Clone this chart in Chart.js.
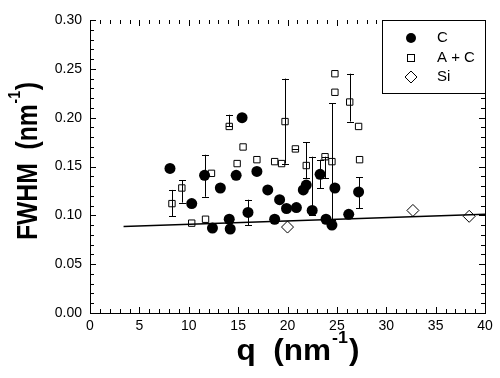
<!DOCTYPE html>
<html>
<head>
<meta charset="utf-8">
<script src="https://cdn.jsdelivr.net/npm/chart.js@4"></script>
<style>
  html, body { margin: 0; padding: 0; background: #fff; }
  #wrap { width: 500px; height: 378px; }
</style>
</head>
<body>
<div id="wrap"><canvas id="chart"></canvas></div>
<script>
/* ─────────────────────────────────────────
   DATA
───────────────────────────────────────── */
const xTicks = [0, 5, 10, 15, 20, 25, 30, 35, 40];
const yTicks = [0.00, 0.05, 0.10, 0.15, 0.20, 0.25, 0.30];

// C (filled circles)
const cQ    = [8.1, 10.3, 11.6, 12.4, 13.2, 14.1, 14.2, 14.8, 15.4, 16.0, 16.9, 18.0, 18.7,
               19.2, 19.9, 20.9, 21.6, 21.9, 22.5, 23.3, 23.9, 24.5, 24.8, 26.2, 27.2];
const cFwhm = [0.148, 0.112, 0.141, 0.087, 0.128, 0.096, 0.086, 0.141, 0.200, 0.103, 0.145, 0.126, 0.096,
               0.116, 0.107, 0.108, 0.126, 0.131, 0.105, 0.142, 0.096, 0.090, 0.128, 0.101, 0.124];
const cLow  = [null, null, 0.119, null, null, null, null, null, null, 0.090, null, null, null,
               null, null, null, null, null, 0.100, 0.128, null, null, null, null, 0.107];
const cHigh = [null, null, 0.162, null, null, null, null, null, null, 0.116, null, null, null,
               null, null, null, null, null, 0.160, 0.157, null, null, null, null, 0.139];

// A + C (open squares)
const acQ    = [8.3, 9.3, 10.3, 11.7, 12.3, 14.1, 14.9, 15.5, 16.9, 18.7, 19.4, 19.75,
                20.8, 21.9, 23.8, 24.5, 24.8, 24.8, 26.3, 27.2, 27.3];
const acFwhm = [0.112, 0.128, 0.092, 0.096, 0.143, 0.191, 0.153, 0.170, 0.157, 0.155, 0.153, 0.196,
                0.168, 0.151, 0.160, 0.155, 0.245, 0.226, 0.216, 0.191, 0.157];
const acLow  = [0.099, 0.113, null, null, null, 0.191, null, null, null, null, null, 0.153,
                0.168, 0.138, 0.138, 0.095, null, null, 0.196, null, null];
const acHigh = [0.126, 0.136, null, null, null, 0.203, null, null, null, null, null, 0.240,
                0.168, 0.175, 0.160, 0.215, null, null, 0.245, null, null];

// Si (open diamonds)
const siQ    = [20.0, 32.7, 38.4];
const siFwhm = [0.088, 0.105, 0.099];

// linear fit
const fitQ    = [3.4, 40];
const fitFwhm = [0.0885, 0.101];

const FONT = '"Liberation Sans", Arial, Helvetica, sans-serif';

function pts(xs, ys) {
    return xs.map((x, i) => ({x: x, y: ys[i]}));
}

/* ─────────────────────────────────────────
   PLUGIN — error bars
───────────────────────────────────────── */
const errorBars = {
    id: 'errorBars',
    beforeDatasetsDraw(chart) {
        const ctx = chart.ctx;
        const xs = chart.scales.x, ys = chart.scales.y;
        const sets = [[cQ, cLow, cHigh], [acQ, acLow, acHigh]];
        ctx.save();
        ctx.strokeStyle = '#000';
        ctx.lineWidth = 1;
        sets.forEach(([q, lo, hi]) => {
            q.forEach((v, i) => {
                if (lo[i] === null || hi[i] === null) return;
                const px = Math.round(xs.getPixelForValue(v)) + 0.5;
                const y1 = ys.getPixelForValue(lo[i]);
                const y2 = ys.getPixelForValue(hi[i]);
                ctx.beginPath();
                ctx.moveTo(px, y1); ctx.lineTo(px, y2);
                ctx.moveTo(px - 3.5, Math.round(y1) + 0.5); ctx.lineTo(px + 3.5, Math.round(y1) + 0.5);
                ctx.moveTo(px - 3.5, Math.round(y2) + 0.5); ctx.lineTo(px + 3.5, Math.round(y2) + 0.5);
                ctx.stroke();
            });
        });
        ctx.restore();
    }
};

/* ─────────────────────────────────────────
   PLUGIN — frame ticks, legend, axis titles
───────────────────────────────────────── */
const frame = {
    id: 'frame',
    afterDraw(chart) {
        const ctx = chart.ctx;
        const a = chart.chartArea;
        const xs = chart.scales.x, ys = chart.scales.y;
        ctx.save();
        ctx.strokeStyle = '#000';
        ctx.lineWidth = 1;
        ctx.beginPath();
        // y ticks left & right
        for (let k = 0; k <= 30; k++) {
            const py = Math.round(ys.getPixelForValue(k / 100)) + 0.5;
            const len = (k % 5 === 0) ? 6 : 4;
            ctx.moveTo(a.left, py); ctx.lineTo(a.left + len, py);
            ctx.moveTo(a.right, py); ctx.lineTo(a.right - len, py);
        }
        // x ticks bottom & top
        for (let k = 0; k <= 40; k++) {
            const px = Math.round(xs.getPixelForValue(k)) + 0.5;
            const len = (k % 5 === 0) ? 6 : 4;
            ctx.moveTo(px, a.bottom); ctx.lineTo(px, a.bottom - len);
            ctx.moveTo(px, a.top); ctx.lineTo(px, a.top + len);
        }
        // right border
        ctx.moveTo(Math.round(a.right) + 0.5, a.top);
        ctx.lineTo(Math.round(a.right) + 0.5, a.bottom);
        ctx.stroke();

        // legend box
        const lx = 382.5, ly = 20.5, lw = 103, lh = 73;
        ctx.fillStyle = '#fff';
        ctx.fillRect(lx, ly, lw, lh);
        ctx.strokeRect(lx, ly, lw, lh);
        ctx.font = '15px ' + FONT;
        ctx.fillStyle = '#000';
        ctx.textBaseline = 'middle';
        ctx.textAlign = 'left';
        const sx = 411;
        // C
        ctx.beginPath(); ctx.arc(sx, 38, 5, 0, Math.PI * 2); ctx.fill();
        ctx.fillText('C', 437, 38);
        // A + C
        ctx.strokeRect(sx - 3.5, 54.5, 7, 7);
        ctx.fillText('A + C', 437, 58);
        // Si
        ctx.beginPath();
        ctx.moveTo(sx, 71); ctx.lineTo(sx + 6, 77); ctx.lineTo(sx, 83); ctx.lineTo(sx - 6, 77);
        ctx.closePath(); ctx.stroke();
        ctx.fillText('Si', 437, 77);

        // axis titles with superscripts
        drawTitle(ctx, 'q  (nm', ')', 298, 360, 0, 123);
        drawTitle(ctx, 'FWHM  (nm', ')', 37, 161, -Math.PI / 2, 158);
        ctx.restore();
    }
};

function drawTitle(ctx, main, close, cx, base, rot, target) {
    const big = 'bold 30px ' + FONT, small = 'bold 17px ' + FONT;
    ctx.font = big; const w1 = ctx.measureText(main).width; const w3 = ctx.measureText(close).width;
    ctx.font = small; const w2 = ctx.measureText('-1').width + 2;
    const total = w1 + w2 + w3;
    const s = target / total;
    ctx.save();
    ctx.translate(cx, base);
    ctx.rotate(rot);
    ctx.scale(s, 1);
    ctx.textBaseline = 'alphabetic';
    ctx.textAlign = 'left';
    ctx.fillStyle = '#000';
    let x = -total / 2;
    ctx.font = big; ctx.fillText(main, x, rot === 0 ? 0 : 0); x += w1;
    ctx.font = small; ctx.fillText('-1', x + 1, -17); x += w2;
    ctx.font = big; ctx.fillText(close, x, 0);
    ctx.restore();
}

/* ─────────────────────────────────────────
   CHART
───────────────────────────────────────── */
const ctxMain = document.getElementById('chart');
new Chart(ctxMain, {
    type: 'scatter',
    data: {
        datasets: [
            {
                label: 'fit',
                data: pts(fitQ, fitFwhm),
                showLine: true,
                borderColor: '#000',
                borderWidth: 1.5,
                pointRadius: 0,
            },
            {
                label: 'C',
                data: pts(cQ, cFwhm),
                pointStyle: 'circle',
                pointRadius: 5.5,
                backgroundColor: '#000',
                borderColor: '#000',
                borderWidth: 0,
            },
            {
                label: 'A + C',
                data: pts(acQ, acFwhm),
                pointStyle: 'rect',
                pointRadius: 4.5,
                backgroundColor: 'rgba(255,255,255,0)',
                borderColor: '#000',
                borderWidth: 1,
            },
            {
                label: 'Si',
                data: pts(siQ, siFwhm),
                pointStyle: 'rectRot',
                pointRadius: 6,
                backgroundColor: '#fff',
                borderColor: '#000',
                borderWidth: 1,
            }
        ]
    },
    options: {
        responsive: true,
        maintainAspectRatio: false,
        animation: false,
        layout: {padding: {top: 20, right: 15, left: 0, bottom: 0}},
        plugins: {legend: {display: false}, tooltip: {enabled: false}},
        scales: {
            x: {
                type: 'linear',
                min: 0, max: 40,
                afterFit(scale) { scale.height = 65; },
                afterBuildTicks(scale) { scale.ticks = xTicks.map(v => ({value: v})); },
                ticks: {color: '#000', font: {family: FONT, size: 14}, padding: 5, maxRotation: 0},
                grid: {display: false, drawTicks: false},
                border: {display: true, color: '#000', width: 1},
            },
            y: {
                type: 'linear',
                min: 0, max: 0.3,
                afterFit(scale) { scale.width = 90; },
                afterBuildTicks(scale) { scale.ticks = yTicks.map(v => ({value: v})); },
                ticks: {color: '#000', font: {family: FONT, size: 14}, padding: 8,
                        callback: v => Number(v).toFixed(2)},
                grid: {display: false, drawTicks: false},
                border: {display: true, color: '#000', width: 1},
            }
        }
    },
    plugins: [errorBars, frame]
});
</script>
</body>
</html>
